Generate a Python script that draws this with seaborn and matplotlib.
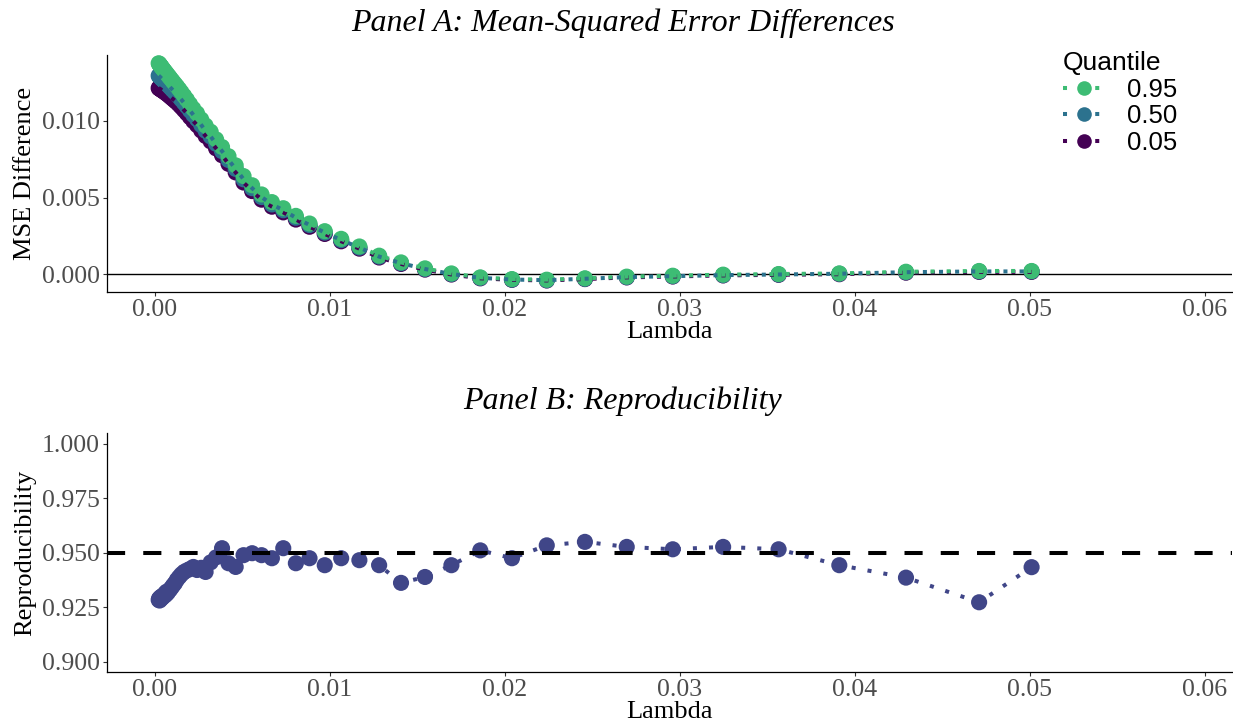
import matplotlib
matplotlib.use('Agg')
import pandas as pd
import matplotlib.pyplot as plt
import seaborn as sns
from matplotlib.lines import Line2D
from matplotlib.ticker import FormatStrFormatter

# Lambda path
lambdas = [0.00021, 0.00023, 0.00026, 0.00028, 0.00031, 0.00034, 0.00037, 0.00041,
           0.00045, 0.00049, 0.00054, 0.00060, 0.00065, 0.00072, 0.00079, 0.00086,
           0.00095, 0.00104, 0.00114, 0.00125, 0.00138, 0.00151, 0.00166, 0.00182,
           0.00200, 0.00219, 0.00240, 0.00264, 0.00289, 0.00318, 0.00349, 0.00383,
           0.00420, 0.00461, 0.00506, 0.00555, 0.00609, 0.00668, 0.00733, 0.00805,
           0.00883, 0.00970, 0.01064, 0.01168, 0.01281, 0.01406, 0.01543, 0.01694,
           0.01859, 0.02040, 0.02239, 0.02457, 0.02696, 0.02959, 0.03247, 0.03564,
           0.03911, 0.04292, 0.04710, 0.05010]

# Panel A: MSE difference per quantile
mse_q95 = [0.01377, 0.01374, 0.01370, 0.01367, 0.01362, 0.01358, 0.01353, 0.01347,
           0.01341, 0.01335, 0.01328, 0.01319, 0.01312, 0.01302, 0.01292, 0.01282,
           0.01269, 0.01256, 0.01242, 0.01227, 0.01208, 0.01188, 0.01165, 0.01140,
           0.01110, 0.01080, 0.01050, 0.01010, 0.00970, 0.00930, 0.00880, 0.00830,
           0.00770, 0.00710, 0.00640, 0.00580, 0.00520, 0.00470, 0.00430, 0.00380,
           0.00330, 0.00280, 0.00230, 0.00180, 0.00120, 0.00076, 0.00037, 0.00004,
           -0.00022, -0.00033, -0.00037, -0.00028, -0.00017, -0.00011, -0.00004, 0.00000,
           0.00004, 0.00015, 0.00020, 0.00020]
mse_q50 = [0.01296, 0.01294, 0.01291, 0.01289, 0.01285, 0.01282, 0.01278, 0.01274,
           0.01269, 0.01265, 0.01259, 0.01252, 0.01246, 0.01238, 0.01230, 0.01221,
           0.01210, 0.01199, 0.01187, 0.01174, 0.01157, 0.01139, 0.01118, 0.01095,
           0.01068, 0.01040, 0.01012, 0.00974, 0.00936, 0.00899, 0.00851, 0.00803,
           0.00745, 0.00687, 0.00619, 0.00561, 0.00503, 0.00455, 0.00417, 0.00368,
           0.00320, 0.00271, 0.00222, 0.00173, 0.00114, 0.00071, 0.00033, 0.00000,
           -0.00025, -0.00036, -0.00040, -0.00031, -0.00020, -0.00014, -0.00007, -0.00003,
           0.00002, 0.00012, 0.00017, 0.00017]
mse_q05 = [0.01215, 0.01214, 0.01212, 0.01211, 0.01208, 0.01206, 0.01203, 0.01200,
           0.01197, 0.01194, 0.01190, 0.01184, 0.01180, 0.01174, 0.01167, 0.01160,
           0.01151, 0.01142, 0.01132, 0.01121, 0.01106, 0.01090, 0.01071, 0.01050,
           0.01025, 0.00999, 0.00973, 0.00938, 0.00902, 0.00867, 0.00821, 0.00776,
           0.00720, 0.00664, 0.00598, 0.00542, 0.00486, 0.00440, 0.00403, 0.00356,
           0.00309, 0.00262, 0.00214, 0.00166, 0.00108, 0.00066, 0.00029, -0.00003,
           -0.00028, -0.00038, -0.00042, -0.00033, -0.00022, -0.00016, -0.00009, -0.00005,
           -0.00001, 0.00009, 0.00014, 0.00014]

# Panel B: reproducibility
reproducibility = [0.9283, 0.9288, 0.9280, 0.9292, 0.9285, 0.9297, 0.9290, 0.9300,
                   0.9295, 0.9300, 0.9310, 0.9305, 0.9320, 0.9315, 0.9325, 0.9330,
                   0.9340, 0.9350, 0.9360, 0.9375, 0.9388, 0.9400, 0.9411, 0.9418,
                   0.9425, 0.9434, 0.9420, 0.9430, 0.9411, 0.9455, 0.9478, 0.9520,
                   0.9451, 0.9434, 0.9488, 0.9497, 0.9488, 0.9474, 0.9520, 0.9451,
                   0.9474, 0.9442, 0.9474, 0.9465, 0.9442, 0.9361, 0.9388, 0.9442,
                   0.9510, 0.9474, 0.9533, 0.9549, 0.9526, 0.9515, 0.9526, 0.9515,
                   0.9442, 0.9385, 0.9272, 0.9433]

quantiles = ['0.05', '0.50', '0.95']
quantile_colors = {'0.95': '#3DBC74', '0.50': '#2C728E', '0.05': '#440154'}
repro_color = '#404688'

n = len(lambdas)
df_mse = pd.DataFrame({
    'Lambda': lambdas * 3,
    'MSE': mse_q05 + mse_q50 + mse_q95,
    'Quantile': ['0.05'] * n + ['0.50'] * n + ['0.95'] * n,
})
df_rep = pd.DataFrame({'Lambda': lambdas, 'Reproducibility': reproducibility})

sns.set_theme(style='ticks')
plt.rcParams['font.family'] = ['Liberation Serif', 'DejaVu Serif']
plt.rcParams['text.color'] = 'black'
plt.rcParams['axes.labelcolor'] = 'black'

dotted = (0, (1, 3))
fig = plt.figure(figsize=(12.33, 7.27), dpi=100)
ax1 = fig.add_axes([0.0868, 0.5983, 0.9122, 0.3260])
ax2 = fig.add_axes([0.0868, 0.0753, 0.9122, 0.3287])

# Panel A
ax1.axhline(0, color='black', lw=1.0, zorder=1)
sns.scatterplot(data=df_mse, x='Lambda', y='MSE', hue='Quantile', hue_order=quantiles,
                palette=quantile_colors, s=135, edgecolor='none', linewidth=0,
                legend=False, ax=ax1, zorder=2)
sns.lineplot(data=df_mse, x='Lambda', y='MSE', hue='Quantile', hue_order=quantiles,
             palette=quantile_colors, estimator=None, errorbar=None, linestyle=dotted,
             lw=2.9, legend=False, ax=ax1, zorder=3)
ax1.set_ylim(-0.001176, 0.01431)
ax1.set_yticks([0.0, 0.005, 0.010])
ax1.yaxis.set_major_formatter(FormatStrFormatter('%.3f'))
ax1.set_ylabel('MSE Difference')

# Panel B
sns.scatterplot(data=df_rep, x='Lambda', y='Reproducibility', color=repro_color, s=135,
                edgecolor='none', linewidth=0, ax=ax2, zorder=2)
sns.lineplot(data=df_rep, x='Lambda', y='Reproducibility', color=repro_color,
             estimator=None, errorbar=None, linestyle=dotted, lw=2.9, ax=ax2, zorder=3)
ax2.axhline(0.95, color='black', lw=2.9, linestyle=(0, (4.5, 4.5)), zorder=4)
ax2.set_ylim(0.8951, 1.0047)
ax2.set_yticks([0.900, 0.925, 0.950, 0.975, 1.000])
ax2.yaxis.set_major_formatter(FormatStrFormatter('%.3f'))
ax2.set_ylabel('Reproducibility')

for ax in (ax1, ax2):
    ax.set_xlim(-0.002743, 0.06154)
    ax.set_xticks([0.00, 0.01, 0.02, 0.03, 0.04, 0.05, 0.06])
    ax.xaxis.set_major_formatter(FormatStrFormatter('%.2f'))
    ax.set_xlabel('Lambda', fontsize=19, labelpad=0)
    ax.yaxis.label.set_size(19)
    ax.tick_params(labelsize=18.5, labelcolor='#4D4D4D', length=3.2, width=0.8,
                   color='#333333', pad=2)
    for side in ('left', 'bottom'):
        ax.spines[side].set_linewidth(0.9)
        ax.spines[side].set_color('black')
    sns.despine(ax=ax)

fig.text(0.5053, 0.9685, 'Panel A: Mean-Squared Error Differences', style='italic',
         fontsize=23, ha='center', va='center')
fig.text(0.5053, 0.4475, 'Panel B: Reproducibility', style='italic',
         fontsize=23, ha='center', va='center')

handles = [Line2D([0], [0], color=quantile_colors[q], linestyle=dotted, lw=2.9,
                  marker='o', markersize=10.5, markeredgewidth=0)
           for q in ['0.95', '0.50', '0.05']]
leg = fig.legend(handles, ['0.95', '0.50', '0.05'], title='Quantile',
                 loc='upper left', bbox_to_anchor=(1063 / 1233, 1 - 51 / 727),
                 frameon=False, borderpad=0, borderaxespad=0, handlelength=1.6,
                 handletextpad=0.9, labelspacing=0.1,
                 prop={'family': 'Liberation Sans', 'size': 18.5},
                 title_fontproperties={'family': 'Liberation Sans', 'size': 19},
                 alignment='left')

fig.savefig('out.png', dpi=100)
